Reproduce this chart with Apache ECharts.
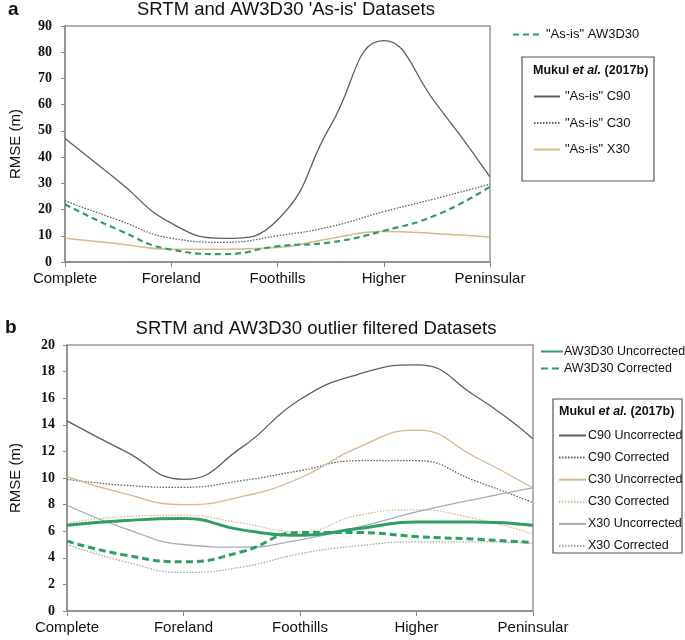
<!DOCTYPE html>
<html>
<head>
<meta charset="utf-8">
<script src="https://cdn.jsdelivr.net/npm/echarts@6/dist/echarts.min.js"></script>
<style>
  html, body { margin: 0; padding: 0; background: #fff; }
  #main { width: 685px; height: 640px; }
</style>
</head>
<body>
<div id="main"></div>
<script>
// category labels on the x axis (tick 0..4)
var regions = ['Complete', 'Foreland', 'Foothills', 'Higher', 'Peninsular'];
// curves at every half category step
var steps = [0, 0.5, 1, 1.5, 2, 2.5, 3, 3.5, 4];

// panel a : 'As-is' datasets (RMSE, m)
var asIsAW3D30 = [22.0, 12.3, 4.7, 3.0, 6.0, 7.5, 11.9, 18.0, 28.7];
var asIsC90 = [47.1, 31.0, 14.8, 9.0, 16.0, 52.0, 84.4, 60.0, 32.5];
var asIsC30 = [23.3, 16.0, 9.1, 7.5, 10.0, 13.5, 19.2, 24.3, 29.7];
var asIsX30 = [9.1, 7.0, 4.9, 4.9, 5.5, 9.0, 11.6, 10.8, 9.5];
var ticksA = [0, 90, 10];

// panel b : outlier filtered datasets (RMSE, m)
var awUnc = [6.45, 6.8, 6.95, 6.1, 5.7, 6.2, 6.7, 6.7, 6.45];
var awCor = [5.25, 4.2, 3.7, 4.45, 5.9, 5.9, 5.6, 5.4, 5.15];
var c90Unc = [14.3, 12.0, 9.9, 12.3, 15.9, 17.8, 18.5, 16.2, 12.95];
var c90Cor = [9.9, 9.45, 9.3, 9.8, 10.55, 11.3, 11.3, 9.8, 8.15];
var c30Unc = [10.1, 8.8, 8.0, 8.6, 10.0, 12.3, 13.6, 11.6, 9.25];
var c30Cor = [6.6, 7.1, 7.2, 6.6, 5.95, 7.2, 7.6, 6.95, 5.8];
var x30Unc = [7.95, 6.2, 5.0, 4.8, 5.35, 6.3, 7.45, 8.4, 9.25];
var x30Cor = [5.0, 3.7, 2.9, 3.3, 4.3, 4.9, 5.2, 5.2, 5.1];
var ticksB = [0, 20, 2];

var green = '#2f9e63';
var dark = '#5f5f5f';
var tan = '#d7b98c';
var steel = '#a4abba';
var sans = 'Liberation Sans, Arial, sans-serif';
var serif = 'Liberation Serif, Times New Roman, serif';

var myChart = echarts.init(document.getElementById('main'));

function xAx(gi) {
  return {
    type: 'value', gridIndex: gi, min: 0, max: regions.length - 1, interval: 1,
    splitLine: { show: false },
    axisLine: { lineStyle: { color: '#8a8a8a', width: 1.5 } },
    axisTick: { show: true, length: 5, lineStyle: { color: '#8a8a8a' } },
    axisLabel: {
      color: '#111', fontFamily: sans, fontSize: 15, margin: 9,
      formatter: function (v) { return regions[v] || ''; }
    }
  };
}
function yAx(gi, t, gap, mg) {
  return {
    type: 'value', gridIndex: gi, min: t[0], max: t[1], interval: t[2],
    name: 'RMSE (m)', nameLocation: 'middle', nameRotate: 90, nameGap: gap,
    nameTextStyle: { fontFamily: sans, fontSize: 15, color: '#111' },
    splitLine: { show: false },
    axisLine: { show: true, lineStyle: { color: '#8a8a8a', width: 1.5 } },
    axisTick: { show: true, length: 4, lineStyle: { color: '#8a8a8a' } },
    axisLabel: { color: '#111', fontFamily: serif, fontWeight: 'bold', fontSize: 14, margin: mg }
  };
}
function ln(name, vals, gi, color, width, type) {
  var pts = [];
  for (var i = 0; i < vals.length; i++) pts.push([steps[i], vals[i]]);
  return {
    name: name, type: 'line', xAxisIndex: gi, yAxisIndex: gi, data: pts,
    smooth: 0.5, symbol: 'none', silent: true,
    lineStyle: { color: color, width: width, type: type },
    itemStyle: { color: color }
  };
}

var legText = { fontFamily: sans, fontSize: 13, color: '#111' };
var noMark = { opacity: 0 };
var boxTitle = function (x, y) {
  return {
    type: 'text', left: x, top: y,
    style: {
      text: '{b|Mukul }{i|et al.}{b| (2017b)}',
      rich: {
        b: { fontFamily: sans, fontWeight: 'bold', fontSize: 12.5, fill: '#111' },
        i: { fontFamily: sans, fontWeight: 'bold', fontStyle: 'italic', fontSize: 12.5, fill: '#111' }
      }
    }
  };
};

var option = {
  backgroundColor: '#fff',
  animation: false,
  title: [
    { text: "SRTM and AW3D30 'As-is' Datasets", left: 286, top: 0, textAlign: 'center', padding: 0,
      textStyle: { fontFamily: sans, fontSize: 18.5, fontWeight: 'normal', color: '#111' } },
    { text: 'SRTM and AW3D30 outlier filtered Datasets', left: 316, top: 319, textAlign: 'center', padding: 0,
      textStyle: { fontFamily: sans, fontSize: 18.5, fontWeight: 'normal', color: '#111' } }
  ],
  grid: [
    { left: 56, right: 195, top: 26, bottom: 378, show: true, borderColor: '#999', borderWidth: 1.5 },
    { left: 54, right: 152, top: 345, bottom: 29, show: true, borderColor: '#999', borderWidth: 1.5 }
  ],
  xAxis: [xAx(0), xAx(1)],
  yAxis: [yAx(0, ticksA, 42, 13), yAx(1, ticksB, 44, 12)],
  legend: [
    { data: ['"As-is" AW3D30'], left: 512, top: 28, padding: 0, itemWidth: 28, itemHeight: 14,
      itemStyle: noMark, textStyle: legText, selectedMode: false },
    { data: ['"As-is" C90', '"As-is" C30', '"As-is" X30'], orient: 'vertical', left: 533, top: 90,
      padding: 0, itemWidth: 26, itemHeight: 14, itemGap: 13.5, itemStyle: noMark,
      textStyle: legText, selectedMode: false },
    { data: ['AW3D30 Uncorrected', 'AW3D30 Corrected'], orient: 'vertical', left: 540, top: 345,
      padding: 0, itemWidth: 22, itemHeight: 14, itemGap: 4, itemStyle: noMark, selectedMode: false,
      textStyle: { fontFamily: sans, fontSize: 12.5, color: '#111', padding: [0, 0, 0, -4] } },
    { data: ['C90 Uncorrected', 'C90 Corrected', 'C30 Uncorrected', 'C30 Corrected', 'X30 Uncorrected', 'X30 Corrected'],
      orient: 'vertical', left: 558, top: 429, padding: 0, itemWidth: 27, itemHeight: 12, itemGap: 9.1,
      itemStyle: noMark, selectedMode: false,
      textStyle: { fontFamily: sans, fontSize: 12.5, color: '#111', padding: [0, 0, 0, -3] } }
  ],
  graphic: [
    { type: 'text', left: 8, top: 0, style: { text: 'a', fontFamily: sans, fontWeight: 'bold', fontSize: 19, fill: '#111' } },
    { type: 'text', left: 5, top: 318, style: { text: 'b', fontFamily: sans, fontWeight: 'bold', fontSize: 19, fill: '#111' } },
    { type: 'rect', shape: { x: 522, y: 57, width: 132, height: 124 }, style: { fill: 'none', stroke: '#555', lineWidth: 1.2 } },
    { type: 'rect', shape: { x: 553, y: 399, width: 129, height: 154 }, style: { fill: 'none', stroke: '#555', lineWidth: 1.2 } },
    boxTitle(533, 64),
    boxTitle(559, 405)
  ],
  series: [
    ln('"As-is" C90', asIsC90, 0, dark, 1.3, 'solid'),
    ln('"As-is" C30', asIsC30, 0, dark, 1.3, [1.5, 1.5]),
    ln('"As-is" X30', asIsX30, 0, tan, 1.5, 'solid'),
    ln('"As-is" AW3D30', asIsAW3D30, 0, green, 2.2, [6, 4]),

    ln('C90 Uncorrected', c90Unc, 1, dark, 1.3, 'solid'),
    ln('C90 Corrected', c90Cor, 1, dark, 1.3, [1.5, 1.5]),
    ln('C30 Uncorrected', c30Unc, 1, tan, 1.3, 'solid'),
    ln('C30 Corrected', c30Cor, 1, tan, 1.3, [1.5, 1.5]),
    ln('X30 Uncorrected', x30Unc, 1, steel, 1.3, 'solid'),
    ln('X30 Corrected', x30Cor, 1, '#a8a8a8', 1.3, [1.5, 1.5]),
    ln('AW3D30 Uncorrected', awUnc, 1, green, 3, 'solid'),
    ln('AW3D30 Corrected', awCor, 1, green, 3, [7, 4])
  ]
};

myChart.setOption(option);
</script>
</body>
</html>
